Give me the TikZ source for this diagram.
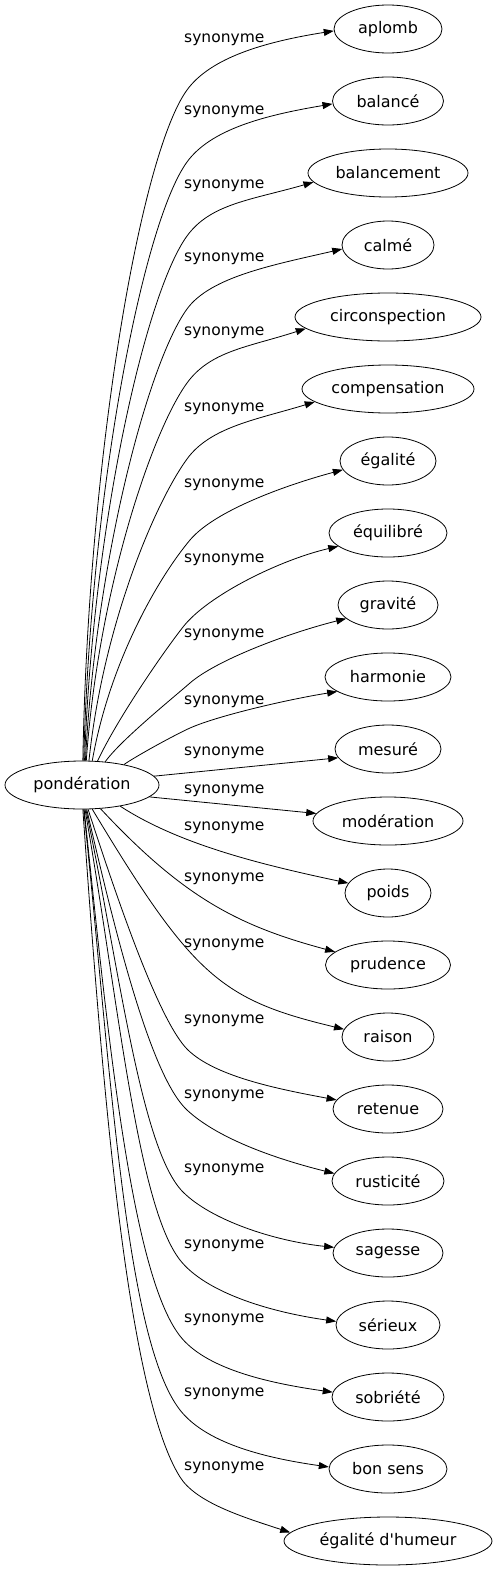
\documentclass[tikz,border=0pt]{standalone}
\usepackage{fontspec}
\setmainfont{DejaVu Sans}
\usetikzlibrary{arrows.meta,shapes.geometric,calc}
\tikzset{
  word/.style={draw, ellipse, minimum height=48pt, inner sep=0pt, line width=0.8pt, font=\fontsize{16}{19}\selectfont},
  lab/.style={inner sep=0pt, anchor=base west, font=\fontsize{15.5}{18}\selectfont},
  edge/.style={line width=0.8pt, -{Triangle[length=10pt,width=7pt]}}
}
% #1 start anchor angle, #2 first control (polar offset), #3 bend point, #4 direction at bend,
% #5 control length before bend, #6 control length after bend, #7 target anchor, #8 arrival direction, #9 last control length
\newcommand\myedge[9]{\draw[edge] (pond.#1) .. controls ($(pond.#1)+(#2)$) and ($(#3)+(#4+180:#5)$) .. (#3) .. controls ($(#3)+(#4:#6)$) and ($(#7)+(#8+180:#9)$) .. (#7);}
\begin{document}
\begin{tikzpicture}[x=1pt,y=-1pt]
\useasboundingbox (0,0) rectangle (498,1571);
\node[word, minimum width=154pt] (pond) at (82,785) {pondération};
\node[word, minimum width=108pt] (n0) at (388,29) {aplomb};
\node[word, minimum width=111pt] (n1) at (388,101) {balancé};
\node[word, minimum width=160pt] (n2) at (388,173) {balancement};
\node[word, minimum width=92pt] (n3) at (388,245) {calmé};
\node[word, minimum width=186pt] (n4) at (388,317) {circonspection};
\node[word, minimum width=172pt] (n5) at (388,389) {compensation};
\node[word, minimum width=96pt] (n6) at (388,461) {égalité};
\node[word, minimum width=118pt] (n7) at (388,533) {équilibré};
\node[word, minimum width=100pt] (n8) at (388,605) {gravité};
\node[word, minimum width=126pt] (n9) at (388,677) {harmonie};
\node[word, minimum width=106pt] (n10) at (388,749) {mesuré};
\node[word, minimum width=150pt] (n11) at (388,821) {modération};
\node[word, minimum width=86pt] (n12) at (388,893) {poids};
\node[word, minimum width=125pt] (n13) at (388,965) {prudence};
\node[word, minimum width=92pt] (n14) at (388,1037) {raison};
\node[word, minimum width=110pt] (n15) at (388,1109) {retenue};
\node[word, minimum width=112pt] (n16) at (388,1181) {rusticité};
\node[word, minimum width=110pt] (n17) at (388,1253) {sagesse};
\node[word, minimum width=104pt] (n18) at (388,1325) {sérieux};
\node[word, minimum width=112pt] (n19) at (388,1397) {sobriété};
\node[word, minimum width=118pt] (n20) at (388,1469) {bon sens};
\node[word, minimum width=208pt] (n21) at (388,1541) {égalité d\textquotesingle humeur};
% labels
\foreach \L [count=\k] in {38,110,184,257,331,407,483,558,633,700,751,789,826,877,943,1019,1094,1168,1244,1318,1392,1466}
  \node[lab] (l\k) at (184,\L+4.5) {synonyme};
% upper edges
\myedge{88}{-89:300}{187,90}{-54}{80}{40}{n0.182}{-9}{70}
\myedge{86}{-88.5:270}{187,162}{-54}{75}{40}{n1.183}{-9.5}{70}
\myedge{84}{-88:236}{187,236}{-54}{70}{40}{n2.187}{-16}{65}
\myedge{82}{-87:203}{187,309}{-54}{65}{40}{n3.185}{-13}{70}
\myedge{80}{-86:170}{187,383}{-54}{60}{40}{n4.188}{-18}{60}
\myedge{74}{-84:136}{187,459}{-54}{55}{40}{n5.190}{-17}{60}
\myedge{67}{-80:100}{190,540}{-50}{50}{38}{n6.191}{-15}{60}
\myedge{57}{-65:45}{183,627}{-52}{35}{40}{n7.195}{-13}{60}
\myedge{45}{-55:25}{190,683}{-41}{25}{35}{n8.198}{-14}{60}
\myedge{26}{-35:15}{190,728}{-24}{15}{30}{n9.196}{-9}{50}
% middle edges
\draw[edge] (pond.7) -- (n10.190);
\draw[edge] (pond.-10) -- (n11.174);
% lower edges
\draw[edge] (pond.-29) .. controls ($(pond.-29)+(33:70)$) and ($(n12.166)+(192:90)$) .. (n12.166);
\draw[edge] (pond.-52) .. controls ($(pond.-52)+(47:122)$) and ($(n13.166)+(195:100)$) .. (n13.166);
\draw[edge] (pond.-67) .. controls ($(pond.-67)+(59:196)$) and ($(n14.170)+(193.5:126)$) .. (n14.170);
\myedge{-76}{72:96}{188,1050}{44}{40}{38}{n15.170}{10.5}{60}
\myedge{-79}{77:126}{187,1110}{43}{50}{40}{n16.172}{14}{65}
\myedge{-81}{78:160}{183,1192}{45}{60}{40}{n17.174}{6}{60}
\myedge{-83}{80:190}{180,1260}{52}{70}{40}{n18.176}{8}{70}
\myedge{-85}{84:221}{180,1336}{52}{80}{40}{n19.175}{8}{70}
\myedge{-86}{84:252}{180,1410}{52}{90}{40}{n20.178}{8}{70}
\myedge{-88}{86:280}{180,1477}{58}{100}{30}{n21.175}{18}{50}
\end{tikzpicture}
\end{document}
